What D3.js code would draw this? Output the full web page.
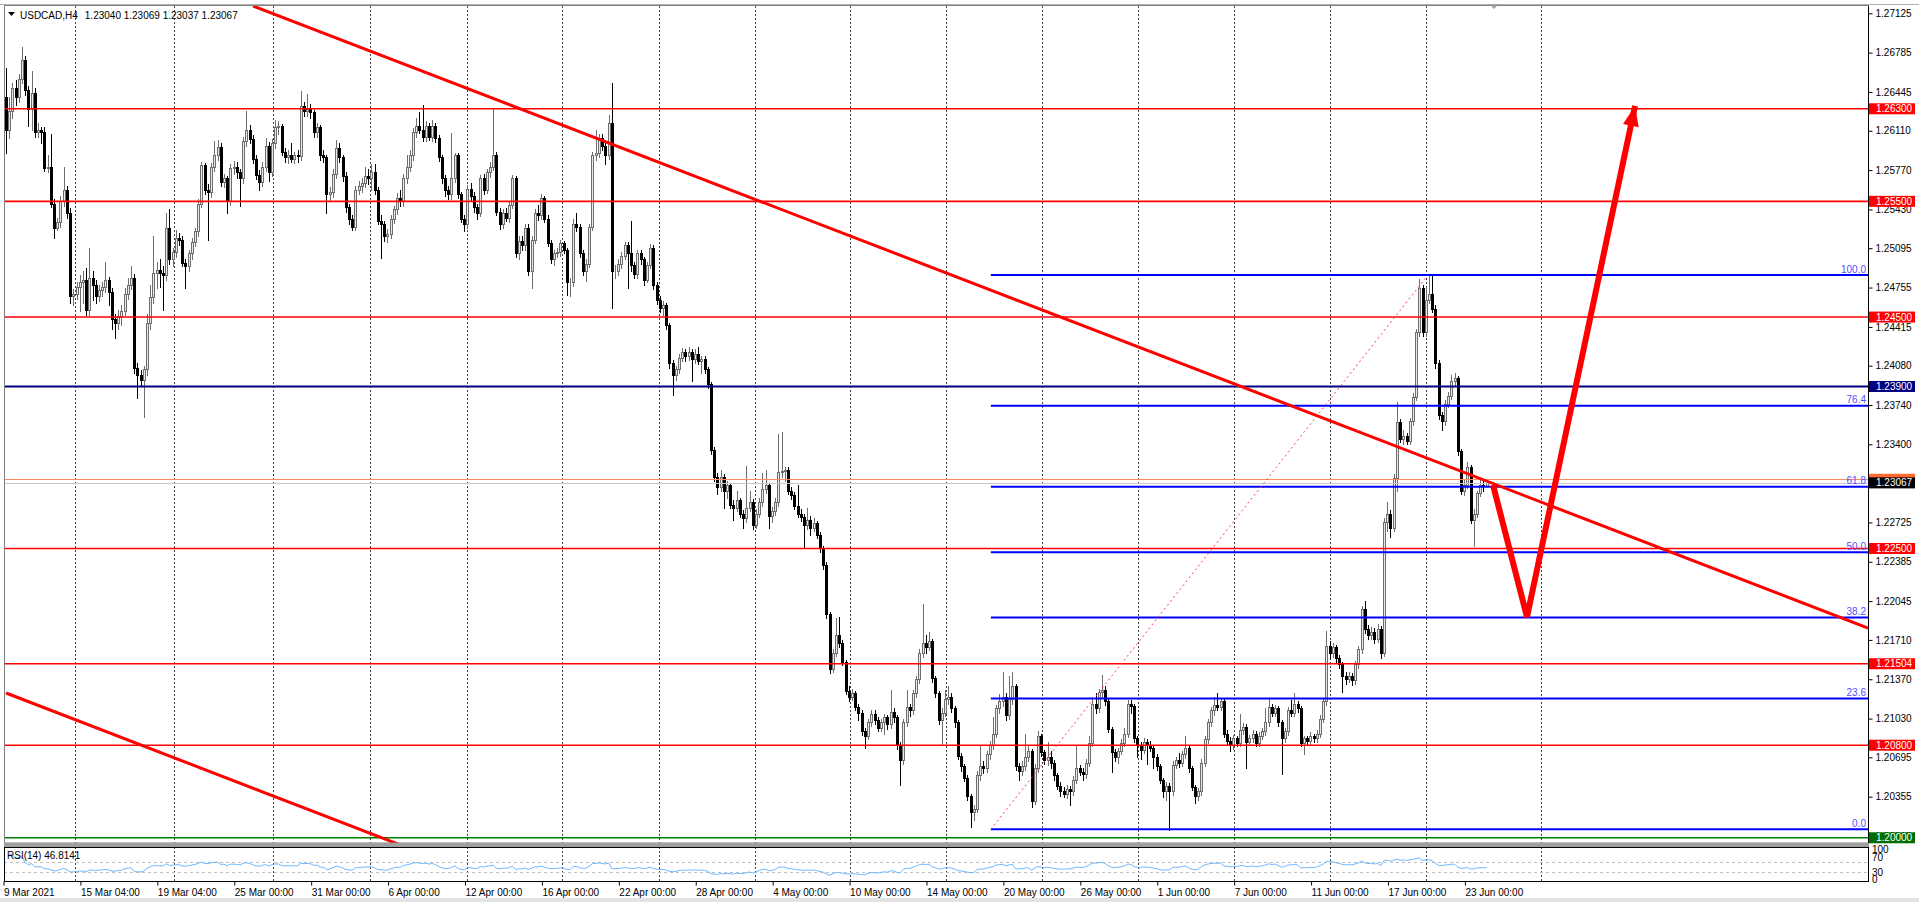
<!DOCTYPE html>
<html><head><meta charset="utf-8">
<script src="https://cdnjs.cloudflare.com/ajax/libs/d3/7.8.5/d3.min.js"></script>
<style>html,body{margin:0;padding:0;background:#fff;overflow:hidden}svg{display:block}text{font-family:"Liberation Sans",Arial,sans-serif;font-size:10px}</style>
</head><body><svg id="c" width="1919" height="902"></svg>
<script>
// ---------- DATA ----------
const symbolName = "USDCAD,H4";
const lastBarText = ["1.23040", "1.23069", "1.23037", "1.23067"];
const rsiText = "RSI(14) 46.8141";
// H4 candles [open, high, low, close] in pips: price = 1 + v/10000
const candlesA = [[2640,2665,2592,2612],[2612,2640,2605,2628],[2628,2652,2622,2648],[2648,2655,2633,2640],[2640,2660,2636,2656],[2656,2683,2652,2672],[2672,2676,2642,2646],[2646,2650,2615,2630],[2630,2663,2612,2644],[2644,2648,2606,2610],[2610,2618,2606,2612],[2612,2614,2600,2610],[2610,2614,2576,2579],[2579,2590,2575,2580],[2580,2608,2545,2548],[2548,2552,2518,2527],[2527,2536,2525,2532],[2532,2555,2528,2550],[2550,2580,2546,2560],[2560,2563,2536,2540],[2540,2544,2462,2468],[2468,2474,2460,2470],[2470,2480,2466,2476],[2476,2486,2455,2480],[2480,2490,2462,2482],[2482,2492,2452,2456],[2456,2510,2452,2484],[2484,2490,2465,2478],[2478,2482,2462,2468],[2468,2478,2464,2473],[2473,2480,2468,2476],[2476,2498,2472,2482],[2482,2485,2460,2472],[2472,2475,2440,2448],[2448,2453,2432,2445],[2445,2456,2440,2451],[2451,2460,2443,2455],[2455,2475,2452,2470],[2470,2484,2466,2478],[2478,2494,2474,2484],[2484,2487,2402,2406],[2406,2410,2380,2400],[2400,2404,2390,2396],[2396,2408,2364,2405],[2405,2453,2400,2445],[2445,2478,2440,2467],[2467,2520,2462,2488],[2488,2498,2475,2491],[2491,2500,2476,2488],[2488,2494,2456,2486],[2486,2540,2482,2527],[2527,2543,2496,2500],[2500,2510,2494,2506],[2506,2525,2502,2518],[2518,2523,2512,2517],[2517,2520,2494,2497],[2497,2500,2475,2494],[2494,2508,2490,2505],[2505,2518,2500,2515],[2515,2527,2511,2524],[2524,2552,2520,2548],[2548,2584,2545,2581],[2581,2583,2556,2560],[2560,2565,2517,2558],[2558,2583,2554,2580],[2580,2602,2576,2590],[2590,2603,2586,2597],[2597,2600,2563,2567],[2567,2574,2562,2570],[2570,2572,2540,2550],[2550,2582,2547,2579],[2579,2585,2574,2580],[2580,2584,2570,2575],[2575,2578,2546,2570],[2570,2606,2566,2602],[2602,2628,2598,2612],[2612,2616,2600,2604],[2604,2607,2583,2587],[2587,2590,2569,2573],[2573,2577,2560,2567],[2567,2584,2563,2580],[2580,2605,2576,2598],[2598,2601,2568,2575],[2575,2604,2572,2600],[2600,2620,2596,2614],[2614,2619,2608,2615],[2615,2617,2590,2593],[2593,2596,2584,2588],[2588,2594,2583,2590],[2590,2600,2584,2587],[2587,2593,2583,2590],[2590,2594,2584,2589],[2589,2645,2586,2632],[2632,2636,2624,2628],[2628,2643,2624,2630],[2630,2634,2622,2627],[2627,2629,2606,2610],[2610,2618,2606,2614],[2614,2616,2586,2590],[2590,2594,2584,2588],[2588,2590,2540,2556],[2556,2562,2550,2558],[2558,2578,2554,2574],[2574,2603,2570,2596],[2596,2600,2584,2588],[2588,2590,2568,2572],[2572,2575,2541,2545],[2545,2548,2530,2535],[2535,2538,2525,2528],[2528,2563,2525,2560],[2560,2568,2556,2563],[2563,2570,2558,2566],[2566,2580,2562,2572],[2572,2578,2565,2570]];
const candlesB = [[2570,2582,2560,2575],[2575,2582,2556,2560],[2560,2562,2530,2533],[2533,2538,2501,2530],[2530,2533,2516,2520],[2520,2526,2515,2522],[2522,2538,2518,2535],[2535,2546,2531,2543],[2543,2557,2539,2553],[2553,2560,2546,2550],[2550,2574,2546,2570],[2570,2590,2566,2580],[2580,2594,2576,2590],[2590,2613,2586,2610],[2610,2622,2606,2615],[2615,2627,2609,2612],[2612,2633,2602,2606],[2606,2619,2602,2615],[2615,2618,2603,2606],[2606,2620,2602,2615],[2615,2618,2601,2605],[2605,2607,2585,2588],[2588,2590,2566,2570],[2570,2573,2555,2560],[2560,2563,2552,2556],[2556,2609,2552,2570],[2570,2592,2567,2590],[2590,2592,2553,2556],[2556,2558,2532,2535],[2535,2538,2524,2530],[2530,2564,2527,2561],[2561,2566,2550,2555],[2555,2558,2541,2545],[2545,2548,2535,2540],[2540,2573,2537,2570],[2570,2574,2556,2560],[2560,2578,2557,2575],[2575,2584,2571,2580],[2580,2630,2577,2590],[2590,2593,2538,2541],[2541,2544,2526,2530],[2530,2543,2527,2540],[2540,2544,2533,2536],[2536,2550,2532,2547],[2547,2573,2544,2570],[2570,2572,2502,2505],[2505,2520,2500,2516],[2516,2520,2508,2512],[2512,2530,2508,2527],[2527,2530,2486,2490],[2490,2520,2475,2517],[2517,2543,2514,2540],[2540,2547,2534,2538],[2538,2556,2535,2553],[2553,2555,2532,2535],[2535,2538,2511,2514],[2514,2517,2497,2500],[2500,2508,2495,2505],[2505,2510,2502,2506],[2506,2517,2503,2514],[2514,2516,2505,2508],[2508,2510,2469,2480],[2480,2484,2468,2480],[2480,2535,2477,2530],[2530,2540,2524,2528],[2528,2530,2502,2505],[2505,2508,2486,2490],[2490,2500,2481,2496],[2496,2530,2493,2528],[2528,2593,2525,2590],[2590,2612,2586,2592],[2592,2608,2588,2605],[2605,2608,2594,2598],[2598,2603,2582,2590],[2590,2625,2587,2618],[2618,2652,2458,2490],[2490,2495,2484,2490],[2490,2500,2486,2496],[2496,2506,2492,2503],[2503,2515,2500,2512],[2512,2515,2475,2505],[2505,2533,2490,2495],[2495,2498,2484,2487],[2487,2508,2484,2505],[2505,2508,2496,2500],[2500,2502,2478,2482],[2482,2498,2480,2495],[2495,2513,2492,2510],[2510,2512,2474,2478],[2478,2480,2461,2465],[2465,2468,2454,2458],[2458,2464,2452,2460],[2460,2462,2440,2443],[2443,2445,2406,2410],[2410,2413,2383,2400],[2400,2408,2396,2405],[2405,2418,2402,2415],[2415,2423,2412,2420],[2420,2422,2412,2416],[2416,2424,2413,2420],[2420,2422,2395,2414],[2414,2422,2410,2418],[2418,2424,2409,2412],[2412,2416,2402,2414],[2414,2416,2402,2405],[2405,2407,2389,2392],[2392,2394,2332,2335],[2335,2338,2308,2312]];
const candlesC = [[2312,2315,2297,2303],[2303,2318,2300,2312],[2312,2314,2285,2300],[2300,2308,2294,2305],[2305,2307,2285,2288],[2288,2292,2275,2285],[2285,2300,2282,2292],[2292,2294,2277,2280],[2280,2283,2268,2276],[2276,2321,2273,2285],[2285,2300,2282,2290],[2290,2293,2267,2270],[2270,2284,2268,2280],[2280,2294,2277,2290],[2290,2315,2287,2301],[2301,2318,2298,2305],[2305,2307,2268,2278],[2278,2286,2273,2282],[2282,2294,2279,2290],[2290,2349,2287,2316],[2316,2351,2312,2317],[2317,2320,2308,2318],[2318,2320,2297,2300],[2300,2303,2293,2296],[2296,2299,2284,2287],[2287,2305,2277,2280],[2280,2284,2274,2277],[2277,2280,2250,2270],[2270,2285,2267,2275],[2275,2278,2262,2268],[2268,2276,2265,2272],[2272,2274,2259,2262],[2262,2264,2247,2250],[2250,2252,2232,2236],[2236,2238,2190,2193],[2193,2195,2142,2146],[2146,2163,2143,2160],[2160,2190,2157,2175],[2175,2191,2165,2168],[2168,2171,2149,2152],[2152,2154,2124,2127],[2127,2131,2118,2122],[2122,2129,2119,2125],[2125,2127,2110,2113],[2113,2116,2102,2108],[2108,2110,2089,2092],[2092,2095,2078,2088],[2088,2103,2085,2100],[2100,2110,2097,2107],[2107,2110,2098,2102],[2102,2104,2092,2095],[2095,2103,2092,2100],[2100,2107,2090,2104],[2104,2106,2094,2098],[2098,2128,2095,2109],[2109,2112,2100,2104],[2104,2106,2077,2080],[2080,2083,2046,2067],[2067,2103,2064,2100],[2100,2128,2097,2113],[2113,2116,2105,2110],[2110,2128,2107,2125],[2125,2140,2122,2137],[2137,2163,2134,2160],[2160,2202,2156,2168],[2168,2175,2160,2165],[2165,2178,2162,2170],[2170,2172,2135,2138],[2138,2140,2122,2125],[2125,2127,2098,2102],[2102,2112,2081,2108],[2108,2128,2105,2120],[2120,2131,2116,2122],[2122,2125,2109,2112],[2112,2114,2096,2100],[2100,2102,2068,2071],[2071,2073,2058,2062],[2062,2064,2049,2052],[2052,2054,2033,2036],[2036,2038,2009,2022],[2022,2028,2015,2025],[2025,2058,2022,2054],[2054,2080,2050,2062],[2062,2066,2056,2060],[2060,2075,2057,2072],[2072,2084,2068,2080],[2080,2104,2077,2090],[2090,2115,2087,2112],[2112,2124,2108,2118],[2118,2143,2114,2122],[2122,2125,2102,2106],[2106,2140,2103,2120],[2120,2143,2116,2131],[2131,2133,2059,2062],[2062,2065,2050,2058],[2058,2066,2054,2062],[2062,2090,2059,2070],[2070,2080,2066,2075],[2075,2077,2027,2032],[2032,2064,2029,2060],[2060,2092,2057,2088],[2088,2090,2071,2074],[2074,2076,2064,2067],[2067,2083,2063,2070],[2070,2075,2060,2065],[2065,2067,2050,2054],[2054,2056,2042,2045],[2045,2048,2036,2040],[2040,2044,2035,2038],[2038,2046,2034,2042],[2042,2045,2028,2040],[2040,2053,2037,2050],[2050,2080,2047,2060]];
const candlesD = [[2060,2063,2054,2057],[2057,2060,2050,2055],[2055,2068,2052,2065],[2065,2088,2062,2082],[2082,2122,2079,2116],[2116,2125,2108,2112],[2112,2129,2109,2126],[2126,2141,2122,2128],[2128,2131,2115,2118],[2118,2120,2091,2094],[2094,2096,2057,2074],[2074,2077,2066,2070],[2070,2078,2065,2075],[2075,2085,2072,2082],[2082,2095,2079,2090],[2090,2119,2087,2116],[2116,2119,2108,2114],[2114,2116,2083,2086],[2086,2088,2070,2080],[2080,2083,2068,2076],[2076,2086,2073,2083],[2083,2085,2064,2080],[2080,2084,2075,2078],[2078,2080,2060,2070],[2070,2072,2059,2062],[2062,2064,2047,2050],[2050,2052,2035,2040],[2040,2048,2033,2045],[2045,2047,2007,2040],[2040,2066,2037,2063],[2063,2070,2060,2067],[2067,2073,2061,2065],[2065,2075,2062,2072],[2072,2088,2069,2078],[2078,2080,2057,2060],[2060,2062,2041,2044],[2044,2046,2030,2036],[2036,2043,2033,2040],[2040,2068,2037,2065],[2065,2088,2062,2085],[2085,2103,2082,2100],[2100,2113,2097,2110],[2110,2122,2106,2115],[2115,2125,2110,2113],[2113,2121,2110,2118],[2118,2120,2087,2090],[2090,2093,2080,2084],[2084,2087,2075,2080],[2080,2089,2077,2086],[2086,2088,2079,2082],[2082,2107,2079,2093],[2093,2099,2090,2096],[2096,2098,2060,2083],[2083,2089,2080,2086],[2086,2093,2083,2090],[2090,2092,2079,2082],[2082,2091,2079,2088],[2088,2095,2085,2092],[2092,2112,2089,2100],[2100,2120,2097,2113],[2113,2116,2105,2108],[2108,2115,2105,2112],[2112,2114,2097,2100],[2100,2102,2055,2086],[2086,2095,2083,2092],[2092,2113,2089,2110],[2110,2119,2105,2108],[2108,2125,2105,2116],[2116,2118,2109,2112],[2112,2114,2079,2082],[2082,2088,2072,2086],[2086,2088,2080,2084],[2084,2091,2081,2088],[2088,2090,2083,2086],[2086,2093,2083,2090],[2090,2106,2087,2103],[2103,2121,2100,2118],[2118,2179,2115,2166],[2166,2170,2155,2160],[2160,2168,2156,2165],[2165,2167,2152,2155],[2155,2158,2147,2150],[2150,2152,2126,2140],[2140,2143,2133,2137],[2137,2143,2135,2140],[2140,2142,2132,2136],[2136,2153,2133,2150],[2150,2166,2147,2163],[2163,2200,2160,2198],[2198,2205,2177,2180],[2180,2184,2172,2175],[2175,2182,2172,2178],[2178,2181,2168,2172],[2172,2185,2169,2180],[2180,2183,2155,2160],[2160,2276,2157,2273],[2273,2290,2265,2280],[2280,2283,2260,2268],[2268,2314,2265,2311],[2311,2377,2300,2359],[2359,2362,2342,2345],[2345,2352,2340,2347],[2347,2350,2340,2343],[2343,2363,2340,2360],[2360,2384,2357,2381],[2381,2440,2378,2437],[2437,2483,2434,2475],[2475,2478,2434,2437],[2437,2476,2434,2465],[2465,2486,2462,2470],[2470,2486,2454,2457],[2457,2460,2406,2410],[2410,2413,2362,2365],[2365,2368,2352,2360],[2360,2378,2357,2375],[2375,2385,2372,2382],[2382,2400,2379,2395],[2395,2402,2390,2397],[2397,2399,2331,2334],[2334,2336,2297,2300],[2300,2310,2296,2305],[2305,2325,2302,2320],[2320,2322,2272,2275],[2275,2284,2252,2280],[2280,2300,2277,2298],[2298,2310,2295,2305],[2305,2310,2300,2304],[2304,2306.9,2303.7,2306.7]];

const priceTicks = [1.27125,1.26785,1.26445,1.26110,1.25770,1.25430,1.25095,1.24755,1.24415,1.24080,1.23740,1.23400,1.23060,1.22725,1.22385,1.22045,1.21710,1.21370,1.21030,1.20695,1.20355,1.20015];
const timeLabels = ["9 Mar 2021","15 Mar 04:00","19 Mar 04:00","25 Mar 00:00","31 Mar 00:00","6 Apr 00:00","12 Apr 00:00","16 Apr 00:00","22 Apr 00:00","28 Apr 00:00","4 May 00:00","10 May 00:00","14 May 00:00","20 May 00:00","26 May 00:00","1 Jun 00:00","7 Jun 00:00","11 Jun 00:00","17 Jun 00:00","23 Jun 00:00"];
const timeLabelBars = [0,24,48,72,96,120,144,168,192,216,240,264,288,312,336,360,384,408,432,456];
const gridBars = [21.5,52.4,83.3,113.7,143.7,173.5,203.6,233.6,263.5,293.3,323.3,353.2,383.2,413.1,443.1,478.9];
const redLevels = [1.26300,1.25500,1.24500,1.22500,1.21504,1.20800];
const navyLevels = [1.23900];
const greenLevels = [1.20000];
const bidPrice = 1.23067, askPrice = 1.23098;
const fibRatios = [0,23.6,38.2,50.0,61.8,76.4,100.0];
const fibLow = {bar:307.3, price:1.20073}, fibHigh = {bar:443.7, price:1.24863};
const trendUpper = [{bar:77.1, price:1.27188},{bar:581, price:1.21813}];
const trendLower = [{bar:0, price:1.21251},{bar:124, price:1.19928}];
const arrowPoints = [{bar:464, price:1.23048},{bar:474.6, price:1.21908},{bar:508.3, price:1.26324}];
const rsiLevels = [70,30];
const rsiAxisLabels = [100,70,30,0];

// ---------- CHART ----------
const svg = d3.select('#c');
const P = v => 1 + v/10000;
const candles = [].concat(candlesA,candlesB,candlesC,candlesD).map((r,i)=>({i,o:P(r[0]),h:P(r[1]),l:P(r[2]),c:P(r[3])}));
const plot = {l:4, r:1868, t:6, b:843};
const rsiBox = {t:847, b:881};
const x = d3.scaleLinear().domain([0,581]).range([6,1868]);
const y = d3.scaleLinear().domain([1.27125,1.20355]).range([13.3,796.7]);
const yr = d3.scaleLinear().domain([0,100]).range([879.2,854.2]);
const fmt5 = d3.format('.5f');
const px = v => Math.round(v)+0.5;

svg.append('rect').attr('width',1919).attr('height',902).attr('fill','#fff');
const defs = svg.append('defs');
defs.append('clipPath').attr('id','cp').append('rect').attr('x',plot.l).attr('y',plot.t).attr('width',plot.r-plot.l).attr('height',plot.b-plot.t);
defs.append('clipPath').attr('id','cpr').append('rect').attr('x',plot.l).attr('y',rsiBox.t).attr('width',plot.r-plot.l).attr('height',rsiBox.b-rsiBox.t);

// vertical grid
const grid = svg.append('g').attr('stroke','#404040').attr('stroke-dasharray','2,2').attr('stroke-width',1);
gridBars.forEach(b=>{
  const gx = px(x(b));
  grid.append('line').attr('x1',gx).attr('x2',gx).attr('y1',plot.t).attr('y2',plot.b);
  grid.append('line').attr('x1',gx).attr('x2',gx).attr('y1',rsiBox.t).attr('y2',rsiBox.b);
});

const main = svg.append('g').attr('clip-path','url(#cp)');

// candles
const cg = main.append('g');
candles.forEach(d=>{
  const cx = Math.round(x(d.i));
  const bull = d.c >= d.o;
  cg.append('line').attr('x1',cx+0.5).attr('x2',cx+0.5).attr('y1',Math.round(y(d.h))).attr('y2',Math.round(y(d.l))+1)
    .attr('stroke', bull ? '#6e6e6e' : '#000').attr('stroke-width',1);
  const top = Math.round(y(Math.max(d.o,d.c))), bot = Math.round(y(Math.min(d.o,d.c)));
  if (bull) {
    cg.append('rect').attr('x',cx-0.5).attr('y',top+0.5).attr('width',2).attr('height',Math.max(0,bot-top))
      .attr('fill','#e8e8e8').attr('stroke','#6e6e6e').attr('stroke-width',1);
  } else {
    cg.append('rect').attr('x',cx-1).attr('y',top).attr('width',3).attr('height',Math.max(1,bot-top+1)).attr('fill','#000');
  }
});

// bid / ask lines
main.append('line').attr('x1',plot.l).attr('x2',plot.r).attr('y1',px(y(askPrice))).attr('y2',px(y(askPrice))).attr('stroke','#ff8a5c').attr('stroke-width',1);
main.append('line').attr('x1',plot.l).attr('x2',plot.r).attr('y1',px(y(bidPrice))).attr('y2',px(y(bidPrice))).attr('stroke','#c8c8c8').attr('stroke-width',1);

// horizontal levels
redLevels.forEach(p=>main.append('line').attr('x1',plot.l).attr('x2',plot.r).attr('y1',y(p)).attr('y2',y(p)).attr('stroke','#ff0000').attr('stroke-width',1.6));
navyLevels.forEach(p=>main.append('line').attr('x1',plot.l).attr('x2',plot.r).attr('y1',y(p)).attr('y2',y(p)).attr('stroke','#000080').attr('stroke-width',2));
greenLevels.forEach(p=>main.append('line').attr('x1',plot.l).attr('x2',plot.r).attr('y1',y(p)).attr('y2',y(p)).attr('stroke','#008000').attr('stroke-width',1.6));

// fibonacci
const fg = main.append('g');
fibRatios.forEach(r=>{
  const p = fibLow.price + (fibHigh.price-fibLow.price)*r/100;
  fg.append('line').attr('x1',x(fibLow.bar)).attr('x2',plot.r).attr('y1',y(p)).attr('y2',y(p)).attr('stroke','#0000ff').attr('stroke-width',2);
  fg.append('text').attr('x',plot.r-2).attr('y',y(p)-2.5).attr('text-anchor','end').attr('fill','#5050ff').text(r.toFixed(1));
});
fg.append('line').attr('x1',x(fibLow.bar)).attr('y1',y(fibLow.price)).attr('x2',x(fibHigh.bar)).attr('y2',y(fibHigh.price))
  .attr('stroke','#ff4040').attr('stroke-width',1).attr('stroke-dasharray','2,3');

// trend lines
[trendUpper,trendLower].forEach(t=>{
  main.append('line').attr('x1',x(t[0].bar)).attr('y1',y(t[0].price)).attr('x2',x(t[1].bar)).attr('y2',y(t[1].price))
    .attr('stroke','#ff0000').attr('stroke-width',3);
});

// forecast arrows
const ap = arrowPoints.map(d=>[x(d.bar),y(d.price)]);
main.append('path').attr('d',d3.line()(ap)).attr('fill','none').attr('stroke','#ff0000').attr('stroke-width',6).attr('stroke-linejoin','miter');
function head(from,to,len,w){
  const dx=to[0]-from[0], dy=to[1]-from[1], L=Math.hypot(dx,dy), ux=dx/L, uy=dy/L;
  const bx=to[0]-ux*len, by=to[1]-uy*len;
  return `M${to[0]},${to[1]}L${bx-uy*w},${by+ux*w}L${bx+uy*w},${by-ux*w}Z`;
}
main.append('path').attr('d',head(ap[1],ap[2],20,8)).attr('fill','#ff0000');

// frame
svg.append('rect').attr('x',plot.l+0.5).attr('y',plot.t-0.5).attr('width',plot.r-plot.l).attr('height',plot.b-plot.t+0.5).attr('fill','none').attr('stroke','#808080').attr('stroke-width',1);
svg.append('line').attr('x1',0).attr('x2',1919).attr('y1',4.5).attr('y2',4.5).attr('stroke','#b0b0b0');
svg.append('path').attr('d','M1489,4 L1499,4 L1494,9 Z').attr('fill','#a0a0a0');

// price axis
const ya = d3.axisRight(y).tickValues(priceTicks).tickFormat(fmt5).tickSize(4).tickPadding(3);
const yg = svg.append('g').attr('transform',`translate(${plot.r+0.5},0)`).call(ya);
yg.select('.domain').remove();
yg.selectAll('text').attr('fill','#000').style('font-size','10px').style('font-family','"Liberation Sans",Arial,sans-serif');
yg.selectAll('line').attr('stroke','#000');
svg.append('line').attr('x1',plot.r+0.5).attr('x2',plot.r+0.5).attr('y1',plot.t).attr('y2',plot.b).attr('stroke','#000');

// price boxes
function box(p,color,label){
  const yc = y(p);
  svg.append('rect').attr('x',plot.r+1).attr('y',yc-5.5).attr('width',46).attr('height',11).attr('fill',color);
  if (label) svg.append('text').attr('x',plot.r+8).attr('y',yc+3.6).attr('fill','#fff').text(label);
}
redLevels.forEach(p=>box(p,'#ff0000',fmt5(p)));
navyLevels.forEach(p=>box(p,'#000080',fmt5(p)));
greenLevels.forEach(p=>box(p,'#006e00',fmt5(p)));
box(askPrice,'#ff6a30',null);   // ask label hidden under the bid label, as in MT4
box(bidPrice,'#000000',fmt5(bidPrice));

// header
svg.append('path').attr('d','M8,12 L15,12 L11.5,16 Z').attr('fill','#000');
const symT = svg.append('text').attr('x',20).attr('y',18.5).attr('fill','#000').text(symbolName);
const symEnd = 20 + symT.node().getComputedTextLength();
svg.append('text').attr('x',Math.max(79, symEnd+7)).attr('y',18.5).attr('fill','#000').text(lastBarText.join(' '));

// separator between panels
svg.append('rect').attr('x',plot.l).attr('y',plot.b).attr('width',plot.r-plot.l+1).attr('height',rsiBox.t-plot.b).attr('fill','#a0a0a0');

// RSI panel (RSI(14) indicator of the candle closes)
function calcRSI(cl,n){
  const out=[]; let g=0,l=0;
  for(let i=1;i<cl.length;i++){
    const d=cl[i]-cl[i-1], up=Math.max(d,0), dn=Math.max(-d,0);
    const k=Math.min(i,n);
    g=(g*(k-1)+up)/k; l=(l*(k-1)+dn)/k;
    out.push({i, v: l===0?100:100-100/(1+g/l)});
  }
  return out;
}
const rsi = calcRSI(candles.map(d=>d.c),14);
const rg = svg.append('g').attr('clip-path','url(#cpr)');
rsiLevels.forEach(v=>rg.append('line').attr('x1',plot.l).attr('x2',plot.r).attr('y1',px(yr(v))).attr('y2',px(yr(v))).attr('stroke','#c0c0c0').attr('stroke-dasharray','3,3'));
rg.append('path').attr('d',d3.line().x(d=>x(d.i)).y(d=>yr(d.v))(rsi)).attr('fill','none').attr('stroke','#6ab8ff').attr('stroke-width',1);
svg.append('rect').attr('x',plot.l+0.5).attr('y',rsiBox.t+0.5).attr('width',plot.r-plot.l).attr('height',rsiBox.b-rsiBox.t).attr('fill','none').attr('stroke','#000');
svg.append('text').attr('x',7).attr('y',rsiBox.t+12).attr('fill','#000').text(rsiText);
rsiAxisLabels.forEach(v=>{
  svg.append('text').attr('x',plot.r+4).attr('y',yr(v)+(v>=70?-1:4)).attr('fill','#000').text(v);
});

// time axis
const xa = d3.axisBottom(x).tickValues(timeLabelBars).tickFormat((d,i)=>timeLabels[i]).tickSize(4).tickPadding(3);
const xg = svg.append('g').attr('transform',`translate(-2.5,${rsiBox.b+0.5})`).call(xa);
xg.select('.domain').remove();
xg.selectAll('text').attr('text-anchor','start').attr('fill','#000').style('font-size','10px').style('font-family','"Liberation Sans",Arial,sans-serif');
xg.selectAll('line').attr('stroke','#000');
svg.append('rect').attr('x',0).attr('y',898).attr('width',1919).attr('height',4).attr('fill','#e3e3e3');
</script></body></html>
